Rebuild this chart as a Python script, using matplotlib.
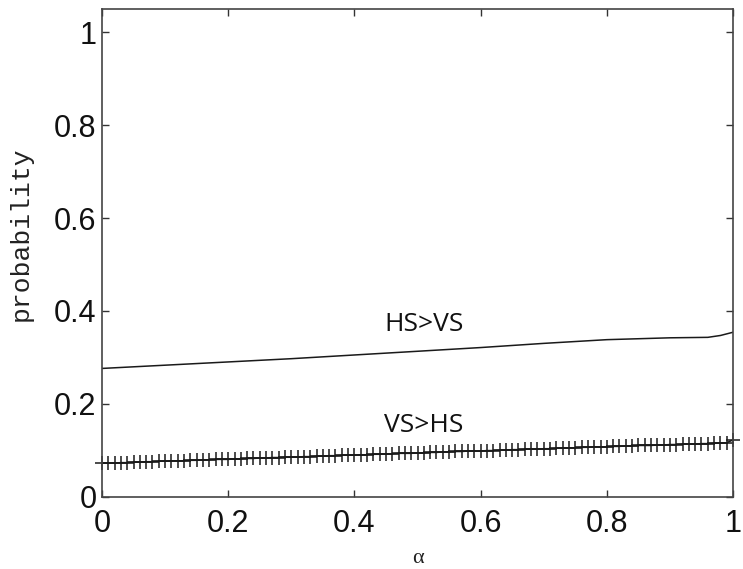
import numpy as np
import matplotlib
matplotlib.use('Agg')
import matplotlib.pyplot as plt

# HS>VS curve (plain line)
hs_x = [0.0, 0.1, 0.2, 0.3, 0.4, 0.5, 0.6, 0.7, 0.8, 0.9, 0.96, 0.98, 1.0]
hs_y = [0.276, 0.283, 0.290, 0.297, 0.305, 0.313, 0.321, 0.330, 0.338,
        0.342, 0.343, 0.347, 0.354]

# VS>HS curve (one '+' marker per alpha step of 0.01)
vs_x = np.linspace(0, 1, 101)
vs_y = [0.072, 0.072, 0.072, 0.073, 0.073, 0.074, 0.074, 0.075, 0.075, 0.076,
        0.076, 0.077, 0.077, 0.077, 0.078, 0.078, 0.079, 0.079, 0.080, 0.080,
        0.080, 0.081, 0.081, 0.082, 0.082, 0.083, 0.083, 0.084, 0.084, 0.085,
        0.085, 0.085, 0.086, 0.086, 0.087, 0.087, 0.088, 0.088, 0.089, 0.089,
        0.089, 0.090, 0.090, 0.091, 0.091, 0.092, 0.092, 0.093, 0.093, 0.093,
        0.094, 0.094, 0.095, 0.095, 0.096, 0.096, 0.097, 0.097, 0.098, 0.098,
        0.098, 0.099, 0.099, 0.100, 0.100, 0.101, 0.101, 0.102, 0.102, 0.102,
        0.103, 0.103, 0.104, 0.104, 0.105, 0.105, 0.106, 0.106, 0.107, 0.107,
        0.107, 0.108, 0.108, 0.109, 0.109, 0.110, 0.110, 0.110, 0.111, 0.111,
        0.112, 0.112, 0.113, 0.113, 0.113, 0.114, 0.114, 0.115, 0.115, 0.116,
        0.122]

xticks = [0, 0.2, 0.4, 0.6, 0.8, 1]
xtick_labels = ['0', '0.2', '0.4', '0.6', '0.8', '1']
yticks = [0, 0.2, 0.4, 0.6, 0.8, 1]
ytick_labels = ['0', '0.2', '0.4', '0.6', '0.8', '1']

fig = plt.figure(figsize=(7.43, 5.69), dpi=100)
ax = fig.add_axes([0.1373, 0.1274, 0.8493, 0.8563])

lc = '#1a1a1a'
ax.plot(hs_x, hs_y, color=lc, lw=1.1)
ax.plot(vs_x, vs_y, color=lc, lw=1.1, marker='+', ms=10, mew=1.1,
        clip_on=False)

ax.set_xlim(0, 1)
ax.set_ylim(0, 1.05)
ax.set_xticks(xticks)
ax.set_xticklabels(xtick_labels)
ax.set_yticks(yticks)
ax.set_yticklabels(ytick_labels)

for lab in ax.get_xticklabels() + ax.get_yticklabels():
    lab.set_fontfamily(['Liberation Sans', 'DejaVu Sans'])
    lab.set_fontsize(22)

ax.tick_params(direction='in', length=5, width=1, top=True, right=True,
               colors='#333333', labelcolor='#111111')
ax.tick_params(axis='x', pad=9)
ax.tick_params(axis='y', pad=4)
for s in ax.spines.values():
    s.set_color('#444444')
    s.set_linewidth(1.2)

ax.set_ylabel('probability', family=['Liberation Mono', 'DejaVu Sans Mono'],
              fontsize=19, color='#222222')
ax.yaxis.set_label_coords(-0.11, 0.54)
ax.set_xlabel('α', family=['Liberation Serif', 'DejaVu Serif'], fontsize=16,
              labelpad=7, color='#222222')

ax.text(0.51, 0.37, 'HS>VS', family=['Open Sans', 'DejaVu Sans'], fontsize=19,
        ha='center', va='center', color='#111111')
ax.text(0.51, 0.152, 'VS>HS', family=['Open Sans', 'DejaVu Sans'], fontsize=19,
        ha='center', va='center', color='#111111')

fig.savefig('out.png', dpi=100)
